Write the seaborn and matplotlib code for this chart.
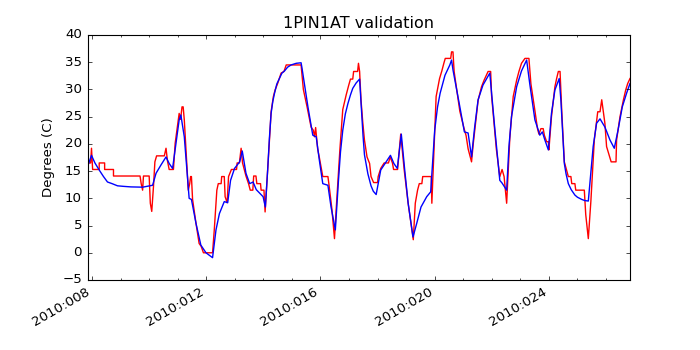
import matplotlib
matplotlib.use("Agg")
import matplotlib.pyplot as plt
from matplotlib.ticker import MultipleLocator, FuncFormatter
import pandas as pd
import seaborn as sns

# ==========================================
# 1. DATA (day of year 2010, degrees C)
# ==========================================
# telemetry (red, quantized)
tlm_day = [7.84, 7.95, 7.98, 8.02, 8.25, 8.25, 8.44, 8.44, 8.75, 8.75, 9.68, 9.72, 9.77, 9.80,
           10.00, 10.04, 10.09, 10.15, 10.20, 10.26, 10.53, 10.59, 10.64, 10.70, 10.85, 10.91,
           11.05, 11.10, 11.15, 11.19, 11.23, 11.37, 11.42, 11.45, 11.48, 11.52, 11.64, 11.75,
           11.82, 11.90, 12.22, 12.28, 12.37, 12.42, 12.52, 12.54, 12.63, 12.66, 12.73, 12.78,
           12.88, 13.06, 13.08, 13.16, 13.22, 13.27, 13.39, 13.48, 13.54, 13.63, 13.66, 13.74,
           13.77, 13.90, 13.92, 14.02, 14.06, 14.15, 14.22, 14.27, 14.35, 14.41, 14.50, 14.62,
           14.72, 14.80, 15.32, 15.40, 15.53, 15.67, 15.75, 15.79, 15.83, 15.90, 15.96, 16.08,
           16.26, 16.30, 16.40, 16.49, 16.55, 16.68, 16.78, 16.90, 16.99, 17.05, 17.13, 17.16,
           17.30, 17.33, 17.37, 17.42, 17.48, 17.54, 17.63, 17.72, 17.77, 17.86, 18.00, 18.02,
           18.11, 18.23, 18.38, 18.44, 18.52, 18.56, 18.70, 18.81, 18.93, 19.07, 19.25, 19.32,
           19.40, 19.46, 19.55, 19.58, 19.88, 19.90, 20.00, 20.05, 20.17, 20.25, 20.32, 20.37,
           20.56, 20.59, 20.64, 20.68, 20.88, 21.03, 21.10, 21.17, 21.29, 21.35, 21.52, 21.64,
           21.73, 21.87, 21.96, 21.99, 22.16, 22.28, 22.36, 22.43, 22.52, 22.63, 22.75, 22.87,
           22.95, 23.04, 23.16, 23.30, 23.37, 23.49, 23.60, 23.65, 23.72, 23.80, 23.84, 23.92,
           23.98, 24.00, 24.09, 24.21, 24.27, 24.33, 24.39, 24.45, 24.54, 24.62, 24.68, 24.77,
           24.80, 24.91, 24.94, 25.24, 25.29, 25.38, 25.47, 25.59, 25.71, 25.79, 25.85, 25.96,
           26.02, 26.11, 26.18, 26.35, 26.37, 26.49, 26.61, 26.69, 26.76, 26.84]
tlm_val = [16.5, 16.5, 19.2, 15.3, 15.3, 16.5, 16.5, 15.3, 15.3, 14.1, 14.1, 12.7, 11.5, 14.1,
           14.1, 9.1, 7.6, 12.1, 16.7, 17.8, 17.8, 19.2, 16.9, 15.3, 15.3, 20.1,
           25.6, 24.5, 26.8, 26.8, 24.4, 11.5, 12.7, 14.0, 14.0, 9.8, 5.4, 1.7,
           1.2, 0.0, 0.0, 4.2, 11.5, 12.7, 12.7, 14.0, 14.0, 10.3, 9.2, 14.0,
           15.3, 15.3, 16.5, 16.5, 19.2, 16.5, 14.1, 12.7, 11.5, 11.5, 14.1, 14.1,
           12.7, 12.7, 11.5, 11.5, 7.5, 15.2, 21.3, 25.9, 28.7, 29.9, 31.1, 33.0,
           33.3, 34.5, 34.5, 30.0, 26.8, 23.1, 22.5, 21.3, 23.0, 19.1, 17.5, 14.0,
           14.0, 12.4, 8.0, 2.6, 8.0, 19.0, 26.3, 29.0, 30.8, 31.9, 31.9, 33.3,
           33.3, 34.8, 33.3, 28.0, 24.0, 20.7, 17.6, 16.4, 14.0, 12.9, 12.9, 14.0,
           15.5, 16.5, 16.5, 17.6, 16.5, 15.3, 15.3, 21.8, 15.3, 9.1, 2.4, 9.1,
           11.5, 12.7, 12.7, 14.0, 14.0, 9.1, 22.0, 28.7, 32.0, 33.4, 34.8, 35.7,
           35.7, 36.9, 36.9, 33.3, 26.0, 22.8, 21.5, 19.1, 16.7, 20.0, 28.0, 30.5,
           31.7, 33.3, 33.3, 29.0, 19.0, 14.0, 15.3, 14.0, 9.1, 21.0, 28.7, 31.7,
           33.3, 34.8, 35.7, 35.7, 31.0, 26.8, 22.8, 21.8, 22.8, 22.8, 21.6, 20.4,
           20.4, 18.9, 25.0, 30.5, 32.0, 33.3, 33.3, 26.0, 16.7, 15.2, 14.0, 14.0,
           12.7, 12.7, 11.5, 11.5, 7.0, 2.6, 9.5, 20.7, 25.9, 25.9, 28.1, 23.8,
           19.5, 17.9, 16.7, 16.7, 20.7, 25.0, 28.1, 29.9, 31.1, 32.0]

# model prediction (blue)
pred_day = [7.84, 7.98, 8.10, 8.25, 8.40, 8.54, 8.70, 8.89, 9.10, 9.36, 9.77, 10.12, 10.24,
            10.41, 10.59, 10.70, 10.82, 10.94, 11.05, 11.11, 11.23, 11.40, 11.48, 11.64, 11.81,
            11.99, 12.22, 12.34, 12.46, 12.63, 12.75, 12.85, 12.99, 13.17, 13.26, 13.39, 13.52,
            13.64, 13.75, 13.99, 14.07, 14.15, 14.21, 14.27, 14.33, 14.39, 14.47, 14.56, 14.65,
            14.74, 14.85, 14.97, 15.15, 15.32, 15.35, 15.56, 15.73, 15.85, 15.96, 16.08, 16.26,
            16.37, 16.52, 16.63, 16.70, 16.78, 16.87, 16.96, 17.05, 17.13, 17.25, 17.37, 17.43,
            17.49, 17.54, 17.66, 17.77, 17.85, 17.95, 18.11, 18.30, 18.45, 18.57, 18.69, 18.83,
            18.95, 19.07, 19.24, 19.37, 19.52, 19.72, 19.86, 20.00, 20.10, 20.19, 20.36, 20.53,
            20.59, 20.64, 20.86, 21.04, 21.17, 21.29, 21.40, 21.52, 21.69, 21.93, 22.11, 22.28,
            22.36, 22.52, 22.60, 22.69, 22.87, 23.04, 23.22, 23.33, 23.51, 23.63, 23.68, 23.77,
            23.86, 23.98, 24.09, 24.21, 24.36, 24.42, 24.54, 24.60, 24.68, 24.78, 24.91, 25.00,
            25.15, 25.25, 25.38, 25.55, 25.67, 25.79, 25.96, 26.14, 26.29, 26.42, 26.57, 26.72,
            26.84]
pred_val = [15.8, 17.9, 16.5, 15.2, 14.0, 13.0, 12.7, 12.3, 12.2, 12.1, 12.05, 12.4, 14.6,
            16.1, 17.6, 16.4, 15.5, 20.1, 24.4, 25.3, 21.3, 10.0, 9.8, 5.4, 1.4,
            0.0, -0.9, 4.2, 7.2, 9.4, 9.2, 13.3, 15.5, 16.7, 18.7, 14.6, 12.7,
            13.0, 11.6, 10.3, 8.4, 15.2, 21.0, 25.6, 27.8, 29.3, 31.0, 32.0, 33.0,
            33.4, 34.1, 34.5, 34.8, 34.9, 34.0, 26.8, 21.6, 21.3, 17.0, 12.7, 12.4,
            8.4, 4.2, 13.3, 18.5, 22.5, 25.5, 27.4, 29.0, 30.2, 31.2, 31.9, 26.8,
            21.5, 18.0, 14.5, 12.3, 11.3, 10.7, 15.2, 16.7, 17.9, 16.4, 15.5, 21.8,
            15.2, 9.1, 2.9, 5.4, 8.4, 10.3, 11.2, 22.5, 26.8, 29.3, 32.6, 34.5,
            35.4, 33.6, 27.4, 22.2, 22.0, 17.6, 23.1, 28.1, 30.8, 33.0, 22.5, 13.3,
            12.8, 11.5, 19.5, 25.0, 30.5, 33.4, 35.4, 31.0, 24.4, 22.5, 21.6, 22.2,
            20.7, 18.9, 25.6, 29.9, 32.0, 28.0, 16.4, 14.5, 12.7, 11.6, 10.6, 10.2,
            9.8, 9.6, 9.5, 19.5, 23.8, 24.6, 23.1, 20.7, 19.2, 22.5, 26.8, 29.3,
            31.1]

tlm = pd.DataFrame({"day": tlm_day, "temp": tlm_val})
pred = pd.DataFrame({"day": pred_day, "temp": pred_val})

# ==========================================
# 2. GRAFİK
# ==========================================
plt.style.use("classic")
plt.rcParams["font.size"] = 9.6
plt.rcParams["figure.facecolor"] = "white"
plt.rcParams["savefig.facecolor"] = "white"
plt.rcParams["xtick.major.size"] = 3.2
plt.rcParams["ytick.major.size"] = 3.2
plt.rcParams["xtick.minor.size"] = 1.6
plt.rcParams["axes.linewidth"] = 0.8

fig, ax = plt.subplots(figsize=(7, 3.5), dpi=100)
sns.lineplot(data=tlm, x="day", y="temp", color="r", lw=1.0,
             estimator=None, sort=False, ax=ax)
sns.lineplot(data=pred, x="day", y="temp", color="b", lw=1.0,
             estimator=None, sort=False, ax=ax)

ax.set_xlim(min(tlm_day), max(tlm_day))
ax.set_ylim(-5, 40)
ax.yaxis.set_major_locator(MultipleLocator(5))
ax.xaxis.set_major_locator(MultipleLocator(4))
ax.xaxis.set_minor_locator(MultipleLocator(1))
ax.xaxis.set_major_formatter(FuncFormatter(lambda v, p: "2010:%03d" % int(round(v))))
ax.set_title("1PIN1AT validation")
ax.set_xlabel("")
ax.set_ylabel("Degrees (C)")
fig.autofmt_xdate()

fig.savefig("out.png", dpi=100)
